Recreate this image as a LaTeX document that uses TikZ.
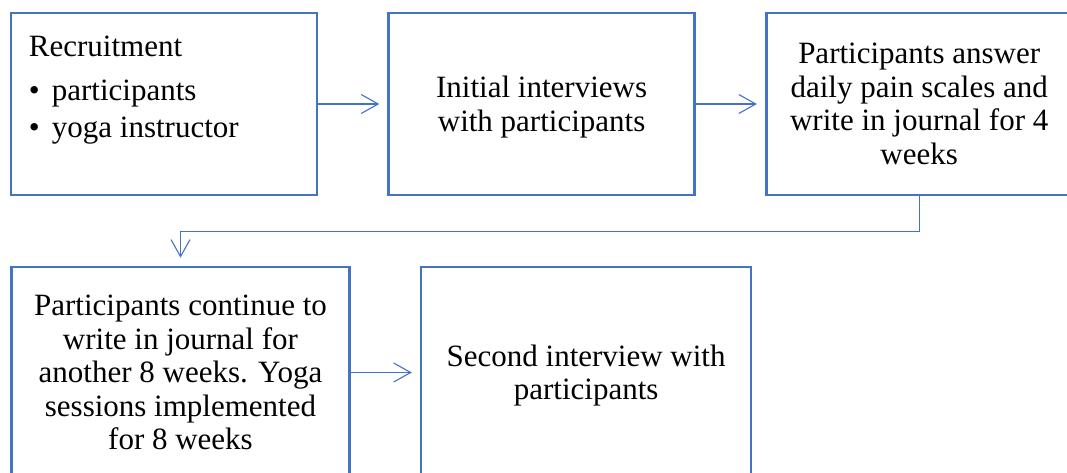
\documentclass[tikz,border=0pt]{standalone}
\usepackage{fontspec}
\setmainfont{Liberation Serif}
\newfontfamily\timesface{Liberation Serif}
\usetikzlibrary{positioning, arrows.meta}
\definecolor{boxblue}{HTML}{4472C4}

\begin{document}
\begin{tikzpicture}[x=1pt, y=1pt, font=\timesface\fontsize{31}{33.5}\selectfont,
    stage/.style={draw=boxblue, line width=2.6pt, align=center, inner sep=0pt},
    flow/.style={draw=boxblue, line width=1.1pt, -{Straight Barb[length=17pt, width=19pt]}, shorten >=8pt}]
    \useasboundingbox (0,0) rectangle (1067,472);
    % top row
    \node[stage, minimum width=306pt, minimum height=182pt] (recruit) at (164,368) {};
    \node[anchor=north west, align=left, inner sep=0pt] (recruitlist) at ([xshift=19pt, yshift=-24pt]recruit.north west)
        {Recruitment\\[11pt] \makebox[23pt][l]{\textbullet}participants\\[3.5pt] \makebox[23pt][l]{\textbullet}yoga instructor};
    \node[stage, minimum width=306pt, minimum height=182pt, right=69pt of recruit] (interview) {\rule{0pt}{28pt}Initial interviews\\with participants};
    \node[stage, minimum width=306pt, minimum height=182pt, right=69pt of interview] (journal)
        {Participants answer\\daily pain scales and\\write in journal for 4\\weeks};
    % bottom row
    \node[stage, minimum width=338pt, minimum height=211pt] (yoga) at (180.5,99.5)
        {Participants continue to\\write in journal for\\another 8 weeks. Yoga\\sessions implemented\\for 8 weeks};
    \node[stage, minimum width=330pt, minimum height=211pt, right=69pt of yoga] (second) {\rule{0pt}{28pt}Second interview with\\participants};
    % arrows
    \draw[flow] (recruit) -- (interview);
    \draw[flow] (interview) -- (journal);
    \draw[flow] (journal.south) -- ++(0,-35) -| (yoga.north);
    \draw[flow] (yoga) -- (second);
\end{tikzpicture}
\end{document}
